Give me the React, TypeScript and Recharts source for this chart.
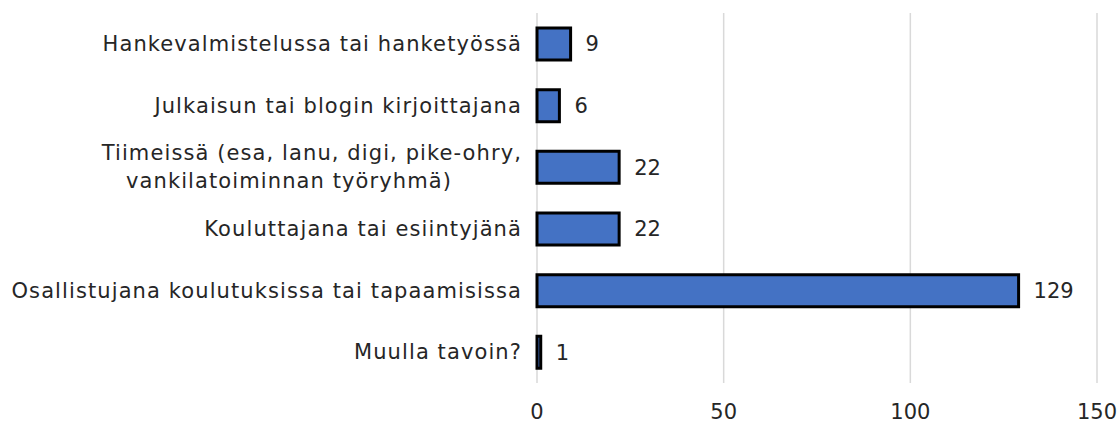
import { Bar, BarChart, CartesianGrid, LabelList, XAxis, YAxis } from "recharts";

const categories = [
  "Hankevalmistelussa tai hanketyössä",
  "Julkaisun tai blogin kirjoittajana",
  "Tiimeissä (esa, lanu, digi, pike-ohry,\nvankilatoiminnan työryhmä)",
  "Kouluttajana tai esiintyjänä",
  "Osallistujana koulutuksissa tai tapaamisissa",
  "Muulla tavoin?",
];
const counts = [9, 6, 22, 22, 129, 1];
const xTicks = [0, 50, 100, 150];

const data = categories.map((name, i) => ({ name, value: counts[i] }));

const FONT = "'DejaVu Sans', sans-serif";
const SIZE = 21;
const SPACING = 1.1;

function CategoryTick(props: any) {
  const { x, y, payload } = props;
  const lines = String(payload.value).split("\n");
  const lineH = 28;
  const startY = y - ((lines.length - 1) * lineH) / 2;
  return (
    <text
      x={x}
      y={startY}
      textAnchor="end"
      fill="#262626"
      fontSize={SIZE}
      fontFamily={FONT}
      letterSpacing={SPACING}
      dominantBaseline="central"
    >
      {lines.map((l, i) => (
        <tspan key={i} x={i === 1 ? x - 70 : x} dy={i === 0 ? 0 : lineH}>
          {l}
        </tspan>
      ))}
    </text>
  );
}

export default function App() {
  return (
    <div style={{ position: "absolute", left: 0, top: 0, background: "#fff" }}>
      <BarChart
        width={1120}
        height={423}
        data={data}
        layout="vertical"
        margin={{ top: 13, right: 23, left: 0, bottom: 0 }}
        barSize={32}
      >
        <CartesianGrid horizontal={false} stroke="#d9d9d9" strokeWidth={1.5} />
        <XAxis
          type="number"
          domain={[0, 150]}
          ticks={xTicks}
          axisLine={false}
          tickLine={false}
          height={40}
          tick={{ fill: "#262626", fontSize: SIZE, fontFamily: FONT }}
          dy={13}
        />
        <YAxis
          type="category"
          dataKey="name"
          width={537}
          axisLine={false}
          tickLine={false}
          tickMargin={15}
          tickSize={0}
          tick={<CategoryTick />}
        />
        <Bar
          dataKey="value"
          fill="#4472C4"
          stroke="#000"
          strokeWidth={3}
          isAnimationActive={false}
        >
          <LabelList
            dataKey="value"
            position="right"
            offset={15}
            fill="#262626"
            fontSize={SIZE}
            fontFamily={FONT}
          />
        </Bar>
      </BarChart>
    </div>
  );
}
